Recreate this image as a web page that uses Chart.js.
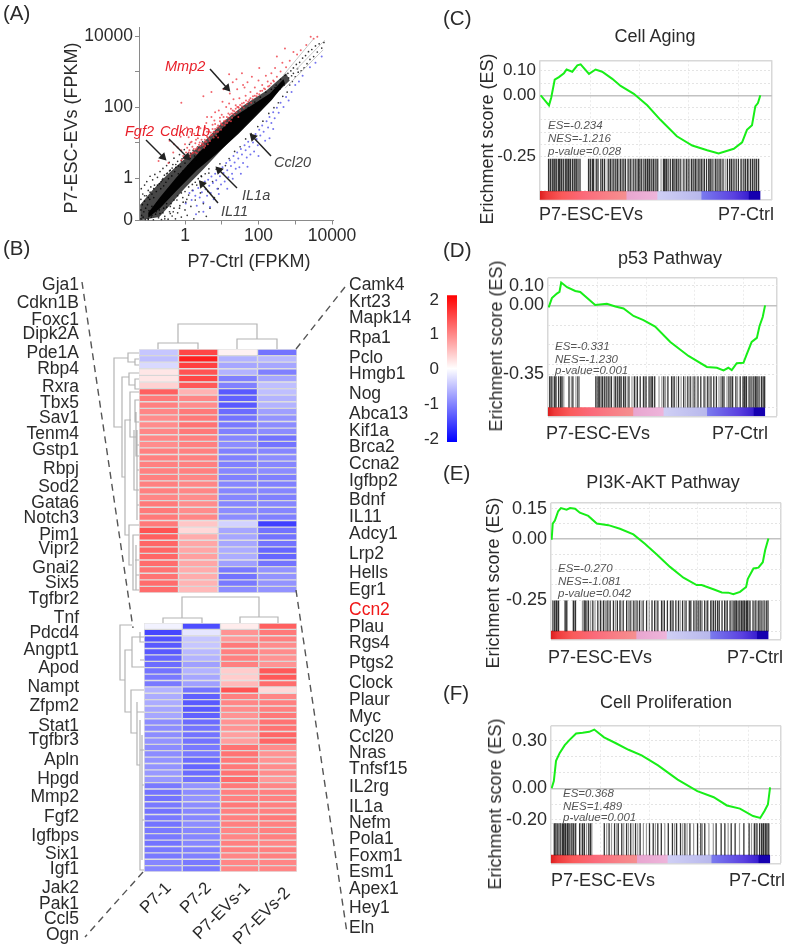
<!DOCTYPE html>
<html>
<head>
<meta charset="utf-8">
<title>P7 ESC-EVs figure</title>
<script src="https://cdn.jsdelivr.net/npm/chart.js@4/dist/chart.umd.js"></script>
<style>
  body { margin: 0; background: #fff; }
  #page { position: relative; width: 790px; height: 948px; overflow: hidden; font-family: "Liberation Sans", Arial, sans-serif; filter: blur(0.45px); }
  #page canvas { position: absolute; }
  .t { position: absolute; white-space: nowrap; line-height: 1; color: #2b2b2b; }
</style>
</head>
<body>
<div id="page"></div>
<script>
// ---- panel A: values are log10(FPKM)
const coreUpper = [[-1.0,-.98],[-.68,-.54],[-.23,.02],[.23,.55],[.77,1.14],[1.32,1.72],[1.86,2.08],[2.31,2.38],[2.68,2.78]];
const coreLower = [[2.72,2.66],[2.36,2.2],[1.95,1.76],[1.45,1.24],[.86,.68],[.32,.22],[-.23,-.36],[-.68,-.85],[-1.0,-1.12]];
const haloUpper = [[-1.22,-.75],[-.9,-.36],[-.5,.08],[0,.55],[.5,1.0],[1,1.55],[1.6,2.05],[2.2,2.45],[2.75,2.95]];
const haloLower = [[2.85,2.75],[2.2,2.1],[1.6,1.45],[1,.8],[.5,.25],[0,-.28],[-.4,-.75],[-.7,-1.1],[-1.22,-1.19]];
const contourUpper = [[2.68,2.9],[3.49,3.91]];
const contourLower = [[2.72,2.53],[3.76,3.61]];
const contourMiddle = [[3.02,3.05],[3.8,3.88]];
const blackPoints = [
[-1.2,-1.15],[-1.2,-.9],[-1.2,-.6],[-1.19,-.3],[-1.18,-1.05],[-1.16,-.75],[-1.15,-.45],[-1.14,-1.1],[-1.12,-.95],[-1.1,-.2],[-1.1,-.65],[-1.08,-1.17],
[-1.07,-.85],[-1.05,-.5],[-1.04,-.1],[-1.02,-.75],[-1,-1.15],[-1,-.35],[-.98,-.92],[-.96,-.6],[-.95,.05],[-.93,-.25],[-.92,-1.1],[-.9,-.45],
[-.9,-.8],[-.88,-.05],[-.86,-1.18],[-.85,-.55],[-.83,-.2],[-.82,.1],[-.8,-1.02],[-.78,-.38],[-.76,-.7],[-.75,.02],[-.72,-1.12],[-.7,-.16],
[-.7,-.9],[-.68,.18],[-.66,-.3],[-.64,-1.17],[-.62,-.05],[-.6,-.98],[-.6,.27],[-.58,-.22],[-.56,.08],[-.55,-1.08],[-.52,-.12],[-.5,.35],
[-.5,-.82],[-.48,.14],[-.46,-1.16],[-.45,-.02],[-.43,.44],[-.42,-.95],[-.4,.22],[-.38,-.72],[-.36,.06],[-.35,-1.07],[-.33,.38],[-.3,.56],
[-.3,-.85],[-.28,.18],[-.26,-1.15],[-.25,.3],[-.22,-.62],[-.2,.47],[-.2,-.98],[-.18,.12],[-.15,.66],[-.14,-.78],[-.12,.32],[-.1,-1.1],
[-.08,.54],[-.06,-.55],[-.05,.2],[-.02,.8],[0,-.9],[0,.42],[.02,-.68],[.04,.62],[.06,-1.05],[.08,.34],[.1,-.48],[.12,.95],[.14,.56],
[.16,-.8],[.18,.42],[.2,-.35],[.22,.78],[.24,-1.15],[.26,.62],[.28,-.62],[.3,.5],[.32,-.2],[.35,.88],[.38,-.95],[.4,.72],[.42,-.42],
[.45,.04],[.48,1.02],[.5,-.72],[.52,.82],[.55,-.15],[.58,-1.08],[.6,.96],[.62,-.38],[.65,.14],[.68,-.85],[.7,1.05],[.75,-.1],[.8,-.55],
[.82,1.18],[.85,.25],[.9,-.3],[.95,.4],[1.05,1.35],[1.1,.35],[1.15,1.42],[1.2,.55],[1.3,1.55],[1.35,.75],[1.42,1.72],[1.5,.88],
[1.58,1.85],[1.65,1.1],[1.72,1.98],[1.8,1.25],[1.9,2.14],[1.98,1.45],[2.05,2.28],[2.12,1.6],[2.2,2.42],[2.28,1.82],[2.35,2.5],[2.42,1.98],
[2.48,2.62],[2.54,2.12],[2.6,2.78],[2.66,2.3],[2.72,2.9],[2.78,2.42],[2.8,2.95],[2.85,2.62],[2.88,3.02],[2.92,2.72],[2.95,3.1],[3,2.85],
[3.03,3.2],[3.08,2.98],[3.12,3.26],[3.16,3.02],[3.2,3.38],[3.24,3.1],[3.28,3.45],[3.32,3.22],[3.36,3.56],[3.4,3.34],[3.45,3.62],[3.5,3.42],
[3.55,3.72],[3.6,3.55],[3.65,3.78],[3.72,3.66],[3.78,3.82],[2.45,2.55],[2.58,2.5],[2.7,2.62],[2.82,2.82],[2.9,2.88],[2.95,2.95],[3.06,3.08],
[-1.1,-.5],[-1.0,-.55],[-.95,-.4],[-.85,-.3],[-.75,-.2],[-.65,-.1],[-.6,-.02],[-.5,.12],[-.42,.2],[-.35,.28],[-.25,.38],[-.18,.34],[-.1,.48],[-.02,.58],
[.08,.62],[.15,.7],[-1.0,-1.17],[-.9,-1.05],[-.78,-.95],[-.68,-1.0],[-.58,-.85],[-.5,-.72],[-.4,-.8],[-.3,-.62],[-.2,-.5],[-.1,-.42],[0,-.38],[.1,-.25],
[.2,-.18],[.28,-.12],[.36,-.02],[.44,.06],[.55,.12],[.65,.26],[-.55,-1.15],[-.4,-1.0],[-.32,-.95],[-.15,-.85],[-.05,-.68],[.05,-.6]
];
const redPoints = [
[-.42,1.05],[-.3,.95],[-.32,.72],[-.2,.86],[-.12,1.16],[-.1,.78],[-.05,.62],[0,.95],[.03,.72],[.06,.85],[.1,1.15],[.12,.78],[.15,.66],
[.18,1.02],[.2,.88],[.22,.72],[.25,1.25],[.28,.98],[.3,.82],[.32,.7],[.35,1.12],[.38,.94],[.4,.8],[.42,1.4],[.45,1.08],[.48,.92],[.5,1.22],
[.52,.85],[.55,1.02],[.58,1.55],[.6,1.16],[.62,.95],[.65,1.3],[.68,1.04],[.7,1.2],[.72,1.72],[.75,1.38],[.78,1.14],[.8,1.28],[.82,1.52],
[.85,1.2],[.88,1.42],[.9,1.3],[.92,1.9],[.95,1.6],[.98,1.36],[1,1.5],[1.02,2.15],[1.05,1.72],[1.08,1.48],[1.1,1.62],[1.12,2.0],[1.15,1.55],
[1.18,1.82],[1.2,1.62],[1.22,2.38],[1.25,1.95],[1.28,1.7],[1.3,1.82],[1.32,2.22],[1.35,1.78],[1.38,2.05],[1.4,1.85],[1.42,2.5],[1.45,2.0],
[1.48,2.25],[1.5,1.9],[1.55,2.1],[1.58,2.62],[1.6,1.98],[1.65,2.32],[1.68,2.08],[1.7,2.7],[1.75,2.2],[1.78,2.42],[1.8,2.12],[1.85,2.3],
[1.9,2.55],[1.95,2.3],[2,2.75],[2.05,2.45],[2.1,2.62],[2.15,2.52],[2.2,2.88],[2.25,2.72],[2.3,2.6],[2.35,2.95],[2.4,2.75],[2.45,3.1],
[2.5,2.85],[2.6,3.0],[2.65,3.25],[2.75,3.12],[2.85,3.3],[2.95,3.55],[3.05,3.48],[3.15,3.6],[3.3,3.75],[3.42,3.98],[3.5,3.92],[3.6,3.98],
[-.1,2.12],[.5,2.3],[.72,2.42],[1.4,2.78],[1.3,2.7],[1.2,2.92],[1.55,2.95],[2.02,3.1],[2.5,3.42],[2.72,3.65],[-.6,.62],[-.45,.42],[-.72,.48],
[.6,1.72],[.35,1.45],[.15,1.3],[.05,1.42],[.82,1.85],[1.05,2.5],[1.62,2.55],[1.82,2.85],[.4,1.0],[.55,.9],[.9,1.14],[1.25,1.6],[1.45,1.72],
[-.1,.5],[-.02,.55],[.05,.62],[.1,.72],[.14,.6],[.2,.7],[.24,.82],[.28,.72],[.33,.86],[.37,.78],[.42,.9],[.46,.98],[.5,.95],[.54,1.08],[.58,1.02],
[.62,1.14],[.66,1.1],[.7,1.28],[.74,1.22],[.78,1.3],[.82,1.38],[.86,1.3],[.9,1.48],[.94,1.42],[.98,1.54],[1.02,1.5],[1.06,1.6],[1.1,1.55],[1.14,1.72],
[1.18,1.7],[1.22,1.78],[1.26,1.82],[1.3,1.9],[1.34,1.88],[1.38,1.95],[1.42,2.0],[1.46,1.98],[1.5,2.06],[1.55,2.02],[1.6,2.12],[1.66,2.18],[1.72,2.15],
[1.78,2.25],[1.84,2.22],[1.9,2.32],[1.96,2.38],[2.02,2.36],[2.1,2.46],[2.18,2.5],[2.26,2.58],[2.34,2.66],[2.42,2.72],[.6,1.3],[.8,1.62],[1.0,1.78],
[1.2,2.1],[.35,1.22],[.15,1.0],[.55,1.42],[.3,1.08],[.75,1.5],[.95,1.7]
];
const bluePoints = [
[.12,-.42],[.18,-.62],[.22,-.35],[.28,-.5],[.32,-.78],[.36,-.28],[.4,-.55],[.44,-.18],[.46,-.4],[.5,-.68],[.54,-.1],[.56,-.32],[.6,-.5],[.63,-.05],[.66,-.22],
[.7,-.42],[.72,.04],[.76,-.14],[.78,-.6],[.82,.12],[.85,-.06],[.88,-.3],[.92,.2],[.95,.05],[.98,-.18],[1.02,.3],[1.05,.14],[1.08,-.1],[1.12,.42],[1.15,.22],
[1.18,.02],[1.22,.5],[1.25,.34],[1.28,.12],[1.32,.62],[1.35,.44],[1.38,.26],[1.42,.72],[1.45,.55],[1.48,.3],[1.52,.82],[1.55,.66],[1.58,.42],[1.62,.92],
[1.65,.78],[1.68,.58],[1.72,1.02],[1.75,.88],[1.78,.66],[1.82,1.14],[1.85,1.0],[1.88,.75],[1.92,1.24],[1.95,1.1],[1.98,.92],[2.02,1.36],[2.05,1.2],[2.1,1.48],
[2.14,1.3],[2.18,1.05],[2.22,1.6],[2.26,1.42],[2.3,1.72],[2.35,1.55],[2.4,1.85],[2.44,1.68],[2.5,1.98],[2.55,1.84],[2.6,2.12],[2.68,2.0],[2.75,2.28],[2.82,2.18],
[2.9,2.42],[3,2.62],[3.1,2.72],[3.2,2.88],[3.4,3.12],[3.55,3.25],[3.72,3.42],[.02,-.72],[.3,-1.02],[.5,-.95],[.68,-.82],[.92,-.45],[1.15,-.3],[1.3,-.02],
[1.52,.12],[1.7,.32],[2.0,.62],[2.4,1.38],[2.3,1.12]
];
const xTickValues = [1, 10, 100, 1000, 10000];
const xTickLabels = ['1', '', '100', '', '10000'];
const yTickValues = [1, 10, 100, 1000, 10000];
const yTickLabels = ['1', '', '100', '', '10000'];

// ---- panel B: z-scores per column
const samples = ['P7-1', 'P7-2', 'P7-EVs-1', 'P7-EVs-2'];
const topP71 = [-.45,-.5,-.3,.2,.2,.35,1.25,1.05,1,.95,.9,.9,.95,.95,.9,1,1,1,1,1,1,1,.95,1.05,1.05,1.05,1.05,1.35,1.25,1.2,1.2,1.2,1.15,1.1,1.1,1.15,1.15];
const topP72 = [1.45,1.75,1.5,1.35,1.45,1.3,.6,.95,.9,1.05,1.05,1.1,1.05,1,1,1,1,1,1,.95,.95,.95,.9,.9,.9,.95,.45,.3,.65,.7,.7,.75,.7,.65,.65,.6,.55];
const topEv1 = [.1,-.6,-.7,-.6,-1,-1,-1.3,-1.25,-1.3,-1.15,-1.1,-1.05,-1,-.95,-.9,-1,-1,-1,-.95,-1,-.95,-.95,-.95,-.95,-.9,-.9,-.35,-.7,-.7,-.7,-.65,-.65,-.75,-1.05,-1.1,-1.05,-.9];
const topEv2 = [-1.1,-.55,-.7,-1,-.7,-.5,-.5,-.6,-.6,-.75,-.85,-.9,-.9,-1.1,-1.1,-.95,-.9,-.95,-.9,-1,-1,-.95,-1,-.95,-.95,-1,-1.5,-1.1,-1.1,-1.1,-1.2,-1.2,-1.1,-.85,-.85,-.85,-.85];
const botP71 = [-.1,-1.45,-1.35,-1.3,-1.3,-1.2,-1.15,-1.1,-1.05,-1.05,-.6,-.65,-.65,-.7,-.7,-.9,-.9,-.9,-.85,-.9,-.9,-.85,-.85,-.8,-.8,-1.05,-1.1,-1.1,-1.05,-1.1,-1.05,-1.1,-1.05,-1.05,-1.1,-1.05,-1.05,-.95,-.95];
const botP72 = [-1.4,-.2,-.45,-.45,-.55,-.6,-.75,-.6,-.7,-.75,-1.1,-1.25,-1.3,-1.3,-1.25,-1.15,-1.1,-1.1,-1.1,-1.05,-1.05,-1.15,-1.2,-1.15,-1.1,-.85,-.9,-.85,-.9,-.95,-.95,-.9,-.95,-.95,-.95,-1,-1,-1.05,-1.05];
const botEv1 = [.15,.85,.8,1.05,1,1,1,.4,.4,.55,1.35,1,.95,.9,.85,.85,.85,.75,.75,1.1,1.1,1.05,1.05,1.1,1.15,1.05,1,1,1.05,1,1,1,.95,.95,1,1,.95,.95,.95];
const botEv2 = [1.25,1.05,1,.9,.9,.85,.85,1.3,1.3,1.15,.3,.95,1,1,1.05,1.1,1.1,1.2,1.2,.9,.85,.85,.9,.9,.8,.95,1,1,1,1,1.05,1,1,1,.95,1,1,.95,.95];
const legendTicks = [-2, -1, 0, 1, 2];

const leftGenes = ['Gja1','Cdkn1B','Foxc1','Dipk2A','Pde1A','Rbp4','Rxra','Tbx5','Sav1','Tenm4','Gstp1','Rbpj','Sod2','Gata6','Notch3','Pim1','Vipr2','Gnai2','Six5','Tgfbr2','Tnf','Pdcd4','Angpt1','Apod','Nampt','Zfpm2','Stat1','Tgfbr3','Apln','Hpgd','Mmp2','Fgf2','Igfbps','Six1','Igf1','Jak2','Pak1','Ccl5','Ogn'];
const leftGeneY = [285,303,320,334,353,369,387,403,418,434,450,469,487,503,518,535,549,568,583,599,618,633,650,668,687,706,726,740,760,779,797,817,836,854,869,888,904,919,935];
const rightGenes = ['Camk4','Krt23','Mapk14','Rpa1','Pclo','Hmgb1','Nog','Abca13','Kif1a','Brca2','Ccna2','Igfbp2','Bdnf','IL11','Adcy1','Lrp2','Hells','Egr1','Ccn2','Plau','Rgs4','Ptgs2','Clock','Plaur','Myc','Ccl20','Nras','Tnfsf15','IL2rg','IL1a','Nefm','Pola1','Foxm1','Esm1','Apex1','Hey1','Eln'];
const rightGeneY = [285,302,318,338,358,374,394,414,431,447,464,481,500,517,534,554,573,590,610,627,643,663,683,700,717,737,753,769,787,807,823,839,856,872,889,908,928];

// ---- panels C-F: running enrichment score and gene set hits
const rankC = [0,3.8,4.8,6.4,8.3,10.6,11.8,14.4,16.7,18.2,22,25,28,32.6,36.4,42.4,48.5,54.5,62,69,75.8,81,87.9,91.7,93.9,96.2,97.7,98.9,100];
const esC = [0,-.041,-.01,.064,.074,.09,.105,.096,.122,.126,.087,.105,.096,.067,.038,.006,-.041,-.1,-.167,-.205,-.224,-.237,-.218,-.192,-.141,-.122,-.045,-.032,0];
const hitsDarkC = [3.6,4.4,5.5,6.2,7.1,8,8.6,9.5,10.3,11.2,12,12.7,13.6,14.5,15.3,16.2,17,17.9,21.8,22.6,23.5,24.1,25.3,26.1,27.4,28.2,29.1,31,31.8,33,34.2,35,36.3,37.5,38.6,39.8,41,42.4,43.3,44.5,45.2,46,47,47.8,48.6,49.5,50.6,51.4,52.5,53.3,55.9,56.5,57.2,58,59,60,60.7,61.8,62.6,63.5,65.2,66.3,67.5,68.6,69.4,70.5,71.7,72.5,73.3,74.5,75.5,76.5,77.2,78,79.5,80.3,81.2,82,83,85,86,86.8,88,89,90,91.2,92.5,93.3,94.2,95.5,96.4,97.5,98.3,99.2];
const hitsLightC = [5,6.8,9,11.7,13.1,15.9,30.3,32.4,33.6,35.6,36.9,38,40.4,41.7,44,49,50,52,54.8,61.3,64.3,66.9,70,71,73.9,78.7,84,87.4,91.7,94.7,97];
const rankD = [0,1.5,3.8,5,5.8,8.5,12.3,14.6,21.5,26.9,30.8,34.6,39.2,43.8,49.2,56.2,64.6,73.1,77.7,80.8,83,84.6,86.9,90,91.5,93.8,96.2,97.4,98.9,100];
const esD = [-.011,.037,.06,.068,.116,.092,.073,.068,.002,.008,-.006,-.016,-.054,-.075,-.108,-.186,-.257,-.313,-.317,-.33,-.317,-.329,-.294,-.292,-.249,-.186,-.165,-.106,-.059,0];
const hitsDarkD = [.5,1.5,2.6,3.4,4.6,5.5,6.2,9.4,11.2,13.5,21.8,22.9,23.6,24.8,25.7,26.9,27.8,29,30.8,31.7,32.6,33.5,34.6,35.4,37.1,39.6,41,42.3,43.8,45,46.4,47.3,48,49,53.2,55.1,56.8,58,60,62.4,64.3,65.4,67.2,69,70.3,71.8,73.5,75,76.3,77.5,80.2,81,83.3,84.2,85,86.5,88.5,89.8,90.5,91.4,92.6,93.5,94.8,95.6,96.3,97.2,98.3,99.1,99.8];
const hitsLightD = [1,3,7,10.5,12.6,14.2,22.4,24.3,26.3,28.4,30.2,33,36.3,38.5,40.3,44.4,51,52.3,54,57.4,59,61.2,63.3,66.3,68,72.6,74.2,78.7,79.5,82.4,87.3,91,94.2];
const rankE = [0,.5,1.5,3,4.3,6.9,8.5,10.8,13,16.9,20.8,26.2,31.5,37.7,43,48.5,54.6,60.8,66.9,69.2,74.6,78.5,81.5,83.8,86.9,89.7,90.5,93.1,95.4,97.4,98.5,100];
const esE = [-.003,.077,.092,.138,.154,.146,.154,.151,.131,.115,.077,.069,.051,.023,-.023,-.077,-.138,-.192,-.228,-.228,-.249,-.265,-.266,-.274,-.262,-.238,-.197,-.146,-.142,-.115,-.054,.003];
const hitsDarkE = [.6,1.4,2.3,3.2,6.2,7,10,11,15,15.8,17,19,21.3,22.5,24,25.6,27,28.5,30.3,31.5,33,34.6,36.2,37.9,39.4,40.5,42.2,43.8,46.3,47.5,49,50.7,52,53.4,54.8,56,57.3,58.5,60.4,62,63.5,64.2,65.6,67,67.9,68.8,70.6,72,73.4,74.6,75.5,76.5,77.3,78.6,79.8,81,82.3,83.7,84.5,85.2,86,86.8,87.6,88.3,89,89.8,90.4,91.5,92.9,94.2,95.3,96.1,97,98,99,99.8];
const hitsLightE = [1.9,2.8,6.6,10.5,14.2,15.4,16.4,18,20,23.2,24.8,26.3,29.4,32,35.4,37,38.6,41.3,45,48.2,51.3,55.4,59.3,61.3,66.3,69.5,71.4,73.9,80.4,82.9,91,93.6];
const rankF = [0,1,2,3.7,6,8.2,11.2,14.2,17.2,19.5,24,29.2,35.2,41.2,48.7,57.7,66.7,74.2,80.2,86.2,92.2,95.5,97.5,99,100];
const esF = [0,.046,.174,.224,.273,.307,.347,.352,.358,.372,.323,.287,.244,.208,.145,.055,-.018,-.057,-.109,-.129,-.176,-.188,-.143,-.103,.006];
const hitsDarkF = [1.2,2,2.8,3.9,5,5.6,6.4,7.2,8,8.9,9.9,11,12.8,14.2,15,17,17.8,24.1,26.3,28.8,30.5,32.1,34.3,36.2,38.4,40.5,44.8,46.5,48.6,50.2,53.4,55.3,57.2,59,61,63.3,66.8,68.3,70.1,75.3,77.6,79.3,82.2,84,88,90.4,92.8,94,95.2,96.1,97,97.8,98.6,99.4];
const hitsLightF = [1.6,3.3,4.4,6,7.6,9.4,10.4,13.5,16,18.4,25.2,27.4,29.8,33,35.2,37.3,39.4,42,43.4,47.5,51.8,56.3,60,62,65,69,72,74,80.8,86,91.5,93.4,96.6,98.2];
const rankStops = [0,.03,.1,.2,.3,.39,.395,.53,.535,.73,.735,.88,.945,.95,1];
const rankColors = ['#dc1e1e','#ee3a3a','#fa5a5a','#fb6a7a','#f87f86','#f58f8f','#e8a6d0','#eeb4da','#cfcff5','#b8b8ec','#7a7aee','#5a40e0','#3a20d0','#1500b0','#1500b0'];

const page = document.getElementById('page');

function txt(str, x, y, o) {
  o = o || {};
  const d = document.createElement('div');
  d.className = 't';
  d.textContent = str;
  const ax = o.anchor === 'r' ? '-100%' : o.anchor === 'c' ? '-50%' : '0';
  d.style.left = x + 'px';
  d.style.top = y + 'px';
  d.style.fontSize = (o.size || 17.5) + 'px';
  if (o.color) d.style.color = o.color;
  if (o.italic) d.style.fontStyle = 'italic';
  if (o.anchor === 'r') d.style.transformOrigin = '100% 50%';
  d.style.transform = 'translate(' + ax + ',-50%)' + (o.rot ? ' rotate(' + o.rot + 'deg)' : '');
  page.appendChild(d);
}

function addCanvas(left, top, w, h) {
  const c = document.createElement('canvas');
  c.width = w;
  c.height = h;
  c.style.left = left + 'px';
  c.style.top = top + 'px';
  page.appendChild(c);
  return c;
}

function fromLog(list) {
  return list.map(p => ({ x: Math.pow(10, p[0]), y: Math.pow(10, p[1]) }));
}

Chart.defaults.font.family = '"Liberation Sans", Arial, sans-serif';
Chart.defaults.color = '#2b2b2b';
Chart.defaults.animation = false;
Chart.defaults.responsive = false;
Chart.defaults.plugins.legend.display = false;
Chart.defaults.plugins.tooltip.enabled = false;

// ---- panel A
const aXMin = Math.pow(10, -1.2517), aXMax = Math.pow(10, 4.027);
const aYMin = Math.pow(10, -1.197), aYMax = Math.pow(10, 4.254);

function polygon(up, low, color) {
  return { data: fromLog(up.concat(low)), showLine: true, fill: 'shape', backgroundColor: color, borderWidth: 0, pointRadius: 0 };
}
function speckle(list, color, r) {
  return { data: fromLog(list), backgroundColor: color, borderWidth: 0, pointRadius: r };
}
function contour(list) {
  return { data: fromLog(list), showLine: true, borderColor: '#c8c8c8', borderWidth: 1, pointRadius: 0 };
}

new Chart(addCanvas(0, 0, 380, 250), {
  type: 'scatter',
  data: {
    datasets: [
      contour(contourUpper), contour(contourLower), contour(contourMiddle),
      speckle(redPoints, 'rgba(238,60,70,0.8)', 1),
      speckle(bluePoints, 'rgba(80,80,235,0.8)', 1),
      polygon(haloUpper, haloLower, 'rgba(0,0,0,0.72)'),
      speckle(blackPoints, 'rgba(0,0,0,0.8)', 0.85),
      polygon(coreUpper, coreLower, '#0a0a0a')
    ]
  },
  options: {
    layout: { padding: { top: 27, right: 47 } },
    scales: {
      x: {
        type: 'logarithmic', min: aXMin, max: aXMax,
        afterBuildTicks: s => { s.ticks = xTickValues.map(value => ({ value })); },
        afterFit: s => { s.height = 29.5; },
        grid: { drawOnChartArea: false, tickLength: 4, color: '#8a8a8a' },
        border: { color: '#8a8a8a' },
        ticks: { autoSkip: false, maxRotation: 0, padding: 1, font: { size: 17.5 }, callback: v => xTickLabels[xTickValues.indexOf(v)] || '' }
      },
      y: {
        type: 'logarithmic', min: aYMin, max: aYMax,
        afterBuildTicks: s => { s.ticks = [aYMin].concat(yTickValues).map(value => ({ value })); },
        afterFit: s => { s.width = 139; },
        grid: { drawOnChartArea: false, tickLength: 4, color: '#8a8a8a' },
        border: { color: '#8a8a8a' },
        ticks: { autoSkip: false, padding: 2, font: { size: 17.5 }, callback: v => v === aYMin ? '0' : (yTickLabels[yTickValues.indexOf(v)] || '') }
      }
    }
  }
});

txt('(A)', 3, 13, { size: 20.5 });
txt('P7-ESC-EVs (FPKM)', 71, 128, { anchor: 'c', rot: -90, size: 18 });
txt('P7-Ctrl (FPKM)', 249, 261, { anchor: 'c', size: 18 });
txt('Mmp2', 165, 66, { italic: true, size: 14.5, color: '#e8202a' });
txt('Fgf2', 125, 131, { italic: true, size: 14.5, color: '#e8202a' });
txt('Cdkn1b', 160, 131, { italic: true, size: 14.5, color: '#e8202a' });
txt('Ccl20', 274, 162, { italic: true, size: 14.5, color: '#444' });
txt('IL1a', 242, 195, { italic: true, size: 14.5, color: '#444' });
txt('IL11', 221, 211, { italic: true, size: 14.5, color: '#444' });

// ---- panel B heat maps, one horizontal stacked bar per row
function zColor(z) {
  const t = Math.min(Math.abs(z) / 2, 1);
  const c = Math.round(255 * (1 - t));
  return z >= 0 ? 'rgb(255,' + c + ',' + c + ')' : 'rgb(' + c + ',' + c + ',255)';
}

function heatmap(left, top, w, h, cols) {
  const rows = cols[0].map((_, i) => i);
  new Chart(addCanvas(left, top, w, h), {
    type: 'bar',
    data: {
      labels: rows,
      datasets: cols.map((col, i) => ({
        label: samples[i],
        data: col.map(() => 1),
        backgroundColor: col.map(zColor),
        borderColor: 'rgba(105,105,105,0.18)',
        borderWidth: 1,
        borderSkipped: false,
        barPercentage: 1,
        categoryPercentage: 1
      }))
    },
    options: {
      indexAxis: 'y',
      scales: {
        x: { display: false, stacked: true, min: 0, max: 4 },
        y: { display: false, stacked: true, reverse: false }
      }
    }
  });
}
heatmap(139, 349, 158, 244, [topP71, topP72, topEv1, topEv2]);
heatmap(144, 623, 153, 249, [botP71, botP72, botEv1, botEv2]);

txt('(B)', 3, 248, { size: 20.5 });
leftGenes.forEach((g, i) => txt(g, 79, leftGeneY[i], { anchor: 'r' }));
rightGenes.forEach((g, i) => txt(g, 349, rightGeneY[i], g === 'Ccn2' ? { color: '#f01818' } : {}));
txt(samples[0], 168, 885, { anchor: 'r', rot: -45, size: 17 });
txt(samples[1], 208, 885, { anchor: 'r', rot: -45, size: 17 });
txt(samples[2], 247, 885, { anchor: 'r', rot: -45, size: 17 });
txt(samples[3], 287, 890, { anchor: 'r', rot: -45, size: 17 });

// colour key
new Chart(addCanvas(400, 285, 57, 170), {
  type: 'bar',
  data: {
    labels: ['z'],
    datasets: [{
      data: [[-2.09, 2.14]],
      barPercentage: 1,
      categoryPercentage: 1,
      backgroundColor: c => {
        const a = c.chart.chartArea;
        if (!a || !isFinite(a.top) || !isFinite(a.bottom)) return '#fff';
        const g = c.chart.ctx.createLinearGradient(0, a.top, 0, a.bottom);
        g.addColorStop(0, '#ff0000');
        g.addColorStop(0.5, '#ffffff');
        g.addColorStop(1, '#0000ff');
        return g;
      }
    }]
  },
  options: {
    layout: { padding: { top: 10, bottom: 13 } },
    scales: {
      x: { display: false },
      y: {
        min: -2.09, max: 2.14,
        afterBuildTicks: s => { s.ticks = legendTicks.map(value => ({ value })); },
        afterFit: s => { s.width = 47; },
        grid: { display: false },
        border: { display: false },
        ticks: { padding: 0, font: { size: 17 }, autoSkip: false }
      }
    }
  }
});

// ---- panels C-F
function hitLines(list, top, bottom) {
  const pts = [];
  list.forEach(h => { pts.push({ x: h, y: top }, { x: h, y: bottom }, { x: h, y: null }); });
  return pts;
}

function gsea(o) {
  const xTicks = [-.3, 22.5, 45, 67.5, 90, o.xMax];
  const yTicks = [o.yMin].concat(o.grid, [o.yMax]);
  const frame = v => Math.abs(v - o.yMin) < 1e-6 || Math.abs(v - o.yMax) < 1e-6;
  new Chart(addCanvas(480, o.top - 10, 310, o.bottom - o.top + 20), {
    type: 'scatter',
    data: {
      datasets: [
        { data: o.rank.map((r, i) => ({ x: r, y: o.es[i] })), showLine: true, borderColor: '#18ee18', borderWidth: 2, pointRadius: 0 },
        { data: hitLines(o.dark, o.hitTop, o.hitBottom), showLine: true, borderColor: 'rgba(0,0,0,0.8)', borderWidth: 1.3, pointRadius: 0 },
        { data: hitLines(o.light, o.hitTop, o.hitBottom), showLine: true, borderColor: 'rgba(0,0,0,0.4)', borderWidth: 1.2, pointRadius: 0 },
        {
          data: [{ x: -.3, y: (o.hitBottom + o.yMin) / 2 }, { x: 100, y: (o.hitBottom + o.yMin) / 2 }],
          showLine: true,
          borderWidth: o.bandPx,
          pointRadius: 0,
          borderColor: c => {
            const a = c.chart.chartArea;
            if (!a || !isFinite(a.left) || !isFinite(a.right)) return '#888';
            const perUnit = (a.right - a.left) / (o.xMax + .3);
            const g = c.chart.ctx.createLinearGradient(a.left, 0, a.left + perUnit * 100.3, 0);
            rankStops.forEach((s, i) => g.addColorStop(s, rankColors[i]));
            return g;
          }
        }
      ]
    },
    options: {
      layout: { padding: { top: 10, bottom: 10, right: 790 - o.right } },
      scales: {
        x: {
          type: 'linear', min: -.3, max: o.xMax,
          afterBuildTicks: s => { s.ticks = xTicks.map(value => ({ value })); },
          afterFit: s => { s.height = 0; },
          ticks: { display: false },
          border: { display: false, dash: c => (c.tick && (c.tick.value === -.3 || c.tick.value === o.xMax)) ? [] : [2, 2] },
          grid: {
            drawTicks: false,
            color: c => (c.tick.value === -.3 || c.tick.value === o.xMax) ? '#d8d8d8' : '#ececec',
            lineWidth: c => (c.tick.value === -.3 || c.tick.value === o.xMax) ? 1.5 : 1
          }
        },
        y: {
          type: 'linear', min: o.yMin, max: o.yMax,
          afterBuildTicks: s => { s.ticks = yTicks.map(value => ({ value })); },
          afterFit: s => { s.width = o.left - 480; },
          border: { display: false, dash: c => (c.tick && (frame(c.tick.value) || c.tick.value === 0)) ? [] : [2, 2] },
          grid: {
            drawTicks: false,
            color: c => frame(c.tick.value) ? '#d8d8d8' : c.tick.value === 0 ? '#c2c2c2' : '#e4e4e4',
            lineWidth: c => (frame(c.tick.value) || c.tick.value === 0) ? 1.4 : 1
          },
          ticks: {
            autoSkip: false, padding: 4, font: { size: o.tickSize },
            callback: v => {
              const i = o.ticks.indexOf(v);
              return i >= 0 ? o.labels[i] : '';
            }
          }
        }
      }
    }
  });
  txt(o.panel, 443, o.panelY, { size: 20.5 });
  txt(o.title, o.titleX, o.titleY, { anchor: 'c', size: 18 });
  txt('Erichment score (ES)', o.yTitleX, o.yTitleY, { anchor: 'c', rot: -90, size: 18 });
  txt('P7-ESC-EVs', o.leftX, o.footY, { size: 18 });
  txt('P7-Ctrl', o.ctrlX, o.footY, { size: 18 });
  o.stats.forEach((s, i) => txt(s, o.statX, o.statY[i], { italic: true, size: 11.5, color: '#555' }));
}

gsea({
  panel: '(C)', panelY: 18, title: 'Cell Aging', titleX: 655, titleY: 36, yTitleX: 487, yTitleY: 139,
  leftX: 539, ctrlX: 718, footY: 214, statX: 548, statY: [126, 139, 152],
  stats: ['ES=-0.234', 'NES=-1.216', 'p-value=0.028'], tickSize: 17,
  left: 540, right: 772, top: 56, bottom: 204, yMax: .143, yMin: -.426, xMax: 105.3,
  ticks: [.1, 0, -.25], labels: ['0.10', '0.00', '-0.25'],
  grid: [-.39, -.25, -.2, -.15, -.1, -.05, 0, .05, .1],
  hitTop: -.259, hitBottom: -.391, bandPx: 9,
  rank: rankC, es: esC, dark: hitsDarkC, light: hitsLightC
});
gsea({
  panel: '(D)', panelY: 250, title: 'p53 Pathway', titleX: 670, titleY: 258, yTitleX: 496, yTitleY: 346,
  leftX: 546, ctrlX: 712, footY: 433, statX: 555, statY: [347, 360, 371],
  stats: ['ES=-0.331', 'NES=-1.230', 'p-value=0.001'], tickSize: 18,
  left: 548, right: 777, top: 273, bottom: 421, yMax: .14, yMin: -.563, xMax: 105.5,
  ticks: [.1, 0, -.35], labels: ['0.10', '0.00', '-0.35'],
  grid: [-.519, -.35, -.3, -.2, -.1, 0, .1],
  hitTop: -.36, hitBottom: -.519, bandPx: 9,
  rank: rankD, es: esD, dark: hitsDarkD, light: hitsLightD
});
gsea({
  panel: '(E)', panelY: 473, title: 'PI3K-AKT Pathway', titleX: 663, titleY: 482, yTitleX: 493, yTitleY: 583,
  leftX: 548, ctrlX: 727, footY: 657, statX: 558, statY: [569, 582, 594],
  stats: ['ES=-0.270', 'NES=-1.081', 'p-value=0.042'], tickSize: 18,
  left: 551, right: 781, top: 498, bottom: 644, yMax: .18, yMin: -.497, xMax: 105.8,
  ticks: [.15, 0, -.305], labels: ['0.15', '0.00', '-0.25'],
  grid: [-.457, -.305, -.225, -.15, -.075, 0, .075, .15],
  hitTop: -.305, hitBottom: -.457, bandPx: 9,
  rank: rankE, es: esE, dark: hitsDarkE, light: hitsLightE
});
gsea({
  panel: '(F)', panelY: 693, title: 'Cell Proliferation', titleX: 666, titleY: 702, yTitleX: 495, yTitleY: 804,
  leftX: 551, ctrlX: 729, footY: 880, statX: 563, statY: [794, 807, 818],
  stats: ['ES=0.368', 'NES=1.489', 'p-value=0.001'], tickSize: 18,
  left: 551, right: 781, top: 721, bottom: 868, yMax: .396, yMin: -.475, xMax: 105,
  ticks: [.3, 0, -.2], labels: ['0.30', '0.00', '-0.20'],
  grid: [-.424, -.222, -.2, -.1, 0, .1, .2, .3],
  hitTop: -.222, hitBottom: -.424, bandPx: 9,
  rank: rankF, es: esF, dark: hitsDarkF, light: hitsLightF
});

// ---- page overlay: dendrograms, guide lines and arrows, in page coordinates
const dendroLines = [
  [[178,343],[178,324],[257,324],[257,339]], [[158,349],[158,343],[198,343],[198,349]], [[237,349],[237,339],[277,339],[277,349]],
  [[139,353],[128,353],[128,362],[135,362]], [[139,359],[135,359],[135,365],[139,365]], [[139,373],[129,373],[129,385],[135,385]],
  [[139,379],[135,379],[135,389],[139,389]], [[128,358],[114,358],[114,427],[122,427]], [[129,377],[122,377],[122,477],[125,477]],
  [[131,420],[125,420],[125,535],[129,535]], [[139,392],[130,392],[130,437],[136,437]], [[139,400],[135,400],[135,422],[139,422]],
  [[136,412],[136,456],[139,456]], [[134,430],[134,490],[139,490]], [[137,430],[137,520]], [[139,445],[137,445]], [[139,470],[137,470]], [[139,505],[137,505]],
  [[139,525],[129,525],[129,565],[132,565]], [[139,535],[133,535],[133,590],[136,590]], [[136,545],[136,590],[139,590]], [[139,560],[135,560]], [[139,575],[136,575]],
  [[182,618],[182,597],[259,597],[259,617]], [[163,623],[163,618],[202,618],[202,623]], [[240,623],[240,617],[278,617],[278,623]],
  [[132,625],[120,625],[120,680],[125,680]], [[144,637],[132,637],[132,667],[144,667]], [[140,632],[140,642],[144,642]], [[132,650],[125,650],[125,712],[131,712]],
  [[140,660],[144,660]], [[144,690],[131,690],[131,733],[137,733]], [[137,702],[137,765],[140,765]], [[144,712],[137,712]],
  [[140,720],[140,870],[144,870]], [[142,735],[142,860]], [[144,750],[140,750]], [[144,785],[142,785]], [[144,820],[142,820]]
];
const guideLines = [
  [[82,282],[133,628]], [[345,287],[296,349]], [[296,590],[347,933]], [[143,872],[85,937]]
];
const arrowLines = [
  [[210,69],[227,88]], [[146,140],[163,157]], [[169,139],[187,157]], [[271,156],[253,137]], [[237,188],[219,170]], [[218,203],[202,184]]
];

function segments(list) {
  const pts = [];
  list.forEach(line => {
    line.forEach(p => pts.push({ x: p[0], y: p[1] }));
    pts.push({ x: line[0][0], y: null });
  });
  return pts;
}

new Chart(addCanvas(0, 0, 790, 948), {
  type: 'scatter',
  data: {
    datasets: [
      { data: segments(dendroLines), showLine: true, borderColor: '#b4b4b4', borderWidth: 1.2, pointRadius: 0 },
      { data: segments(guideLines), showLine: true, borderColor: '#555', borderWidth: 1.4, borderDash: [7, 5], pointRadius: 0 }
    ].concat(arrowLines.map(a => ({
      data: segments([a]),
      showLine: true,
      borderColor: '#222',
      backgroundColor: '#222',
      borderWidth: 1.5,
      pointStyle: 'triangle',
      pointRadius: [0, 3.5, 0],
      pointRotation: Math.atan2(a[1][0] - a[0][0], a[0][1] - a[1][1]) * 180 / Math.PI
    })))
  },
  options: {
    scales: {
      x: { display: false, min: 0, max: 790 },
      y: { display: false, min: 0, max: 948, reverse: true }
    }
  }
});
</script>
</body>
</html>
